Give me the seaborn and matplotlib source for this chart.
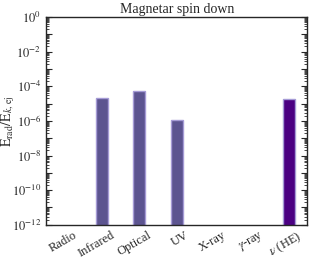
import numpy as np
import pandas as pd
import matplotlib
matplotlib.use("Agg")
import matplotlib.pyplot as plt
import matplotlib.ticker as mticker
import matplotlib.transforms as mtransforms
import seaborn as sns

bands = ["Radio", "Infrared", "Optical", "UV", "X-ray", r"$\gamma$-ray", r"$\nu$ (HE)"]
ratio = [np.nan, 2.1e-5, 5.4e-5, 1.1e-6, np.nan, np.nan, 1.9e-5]
bar_colors = ["#5c5490", "#5c5490", "#5c5490", "#5c5490", "#5c5490", "#5c5490", "#4b0082"]

df = pd.DataFrame({"band": bands, "ratio": ratio})

sns.set_style("ticks")
plt.rcParams["font.family"] = ["Liberation Serif", "DejaVu Serif"]
plt.rcParams["mathtext.fontset"] = "stix"

fig, ax = plt.subplots(figsize=(3.12, 2.62), dpi=100)

sns.barplot(
    data=df,
    x="band",
    y="ratio",
    hue="band",
    order=bands,
    hue_order=bands,
    palette=dict(zip(bands, bar_colors)),
    saturation=1,
    width=0.32,
    edgecolor="#a59bd6",
    linewidth=1.0,
    legend=False,
    ax=ax,
)

ax.set_yscale("log")
ax.set_ylim(1e-12, 1e0)
ax.set_xlim(-0.5, 6.5)
ax.yaxis.set_major_locator(mticker.LogLocator(base=10, numticks=20))
ax.yaxis.set_major_formatter(mticker.FuncFormatter(lambda v, p: r"$10^{%d}$" % round(np.log10(v)) if round(np.log10(v)) % 2 == 0 else ""))
ax.yaxis.set_minor_locator(mticker.LogLocator(base=10, subs=np.arange(1, 10), numticks=100))
ax.yaxis.set_minor_formatter(mticker.NullFormatter())

ax.tick_params(axis="y", which="both", direction="in", right=True, labelsize=9)
ax.tick_params(axis="y", which="major", length=4)
ax.tick_params(axis="y", which="minor", length=2.5)
ax.tick_params(axis="x", length=0, labelsize=9, pad=3)
shift = mtransforms.ScaledTranslation(6 / 72, 0, fig.dpi_scale_trans)
for lab in ax.get_xticklabels():
    lab.set_rotation(30)
    lab.set_ha("right")
    lab.set_rotation_mode("anchor")
    lab.set_transform(lab.get_transform() + shift)

ax.set_xlabel("")
ax.set_ylabel(r"$\mathrm{E_{rad}/E}_{k,\,\mathrm{ej}}$", fontsize=10)
ax.yaxis.set_label_coords(-0.11, 0.5)
ax.set_title("Magnetar spin down", fontsize=10, pad=3)

for s in ax.spines.values():
    s.set_linewidth(1.0)

fig.subplots_adjust(left=0.148, right=0.985, top=0.935, bottom=0.142)
fig.savefig("out.png", dpi=100)
